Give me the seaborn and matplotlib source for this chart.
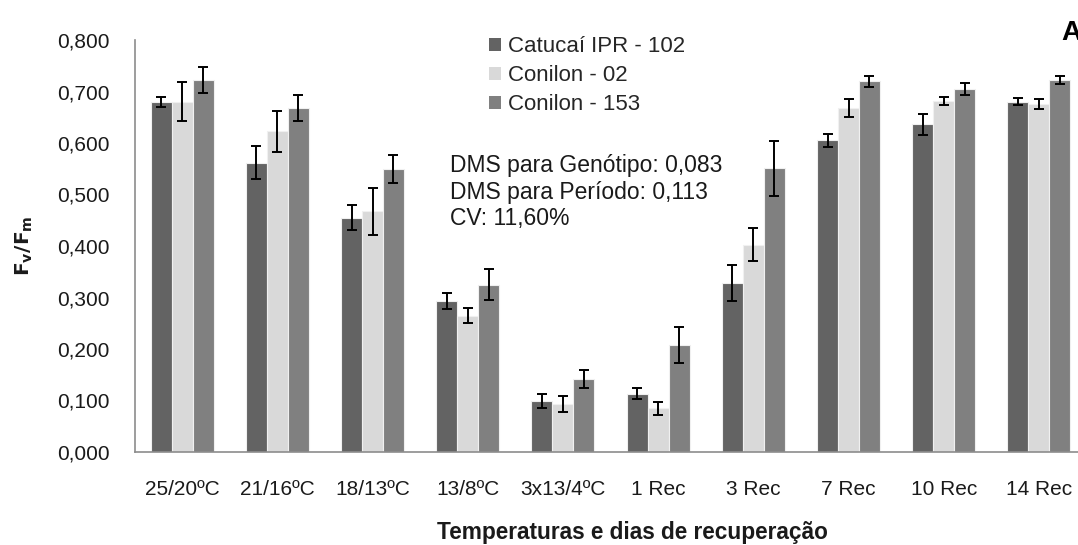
import matplotlib
matplotlib.use("Agg")
import matplotlib.pyplot as plt
import matplotlib.ticker as mticker
import seaborn as sns
import pandas as pd

categories = ["25/20ºC", "21/16ºC", "18/13ºC", "13/8ºC", "3x13/4ºC",
              "1 Rec", "3 Rec", "7 Rec", "10 Rec", "14 Rec"]
series_names = ["Catucaí IPR - 102", "Conilon - 02", "Conilon - 153"]
catucai = [0.680, 0.562, 0.455, 0.293, 0.099, 0.113, 0.329, 0.605, 0.636, 0.680]
conilon02 = [0.680, 0.623, 0.467, 0.265, 0.093, 0.085, 0.402, 0.668, 0.681, 0.676]
conilon153 = [0.722, 0.668, 0.550, 0.325, 0.142, 0.207, 0.551, 0.720, 0.705, 0.722]
catucai_err = [0.010, 0.032, 0.024, 0.015, 0.013, 0.011, 0.035, 0.012, 0.020, 0.007]
conilon02_err = [0.038, 0.040, 0.046, 0.014, 0.015, 0.013, 0.032, 0.018, 0.008, 0.010]
conilon153_err = [0.025, 0.025, 0.027, 0.030, 0.018, 0.035, 0.053, 0.011, 0.011, 0.008]
colors = ["#636363", "#d9d9d9", "#808080"]

values = [catucai, conilon02, conilon153]
errors = [catucai_err, conilon02_err, conilon153_err]

rows = []
for name, vals in zip(series_names, values):
    for c, v in zip(categories, vals):
        rows.append({"cat": c, "serie": name, "val": v})
df = pd.DataFrame(rows)

sns.set_theme(style="white")
plt.rcParams["font.family"] = ["Liberation Sans", "DejaVu Sans"]

fig = plt.figure(figsize=(10.78, 5.45), dpi=100)
ax = fig.add_axes([134.5 / 1078, 1 - 452 / 545, 952 / 1078, (452 - 40) / 545])

sns.barplot(data=df, x="cat", y="val", hue="serie", order=categories,
            hue_order=series_names, palette=colors, width=0.66,
            errorbar=None, edgecolor="#f0f0f0", linewidth=0.8,
            saturation=1, ax=ax)

for cont, errs in zip(ax.containers, errors):
    xs = [p.get_x() + p.get_width() / 2 for p in cont.patches]
    hs = [p.get_height() for p in cont.patches]
    ax.errorbar(xs, hs, yerr=errs, fmt="none", ecolor="black",
                elinewidth=1.4, capsize=3.8, capthick=1.4, zorder=5)

ax.set_xlim(-0.5, 9.5)
ax.set_ylim(0, 0.8)
ax.yaxis.set_major_locator(mticker.MultipleLocator(0.1))
ax.yaxis.set_major_formatter(mticker.FuncFormatter(lambda v, p: f"{v:.3f}".replace(".", ",")))

for s in ["top", "right"]:
    ax.spines[s].set_visible(False)
for s in ["left", "bottom"]:
    ax.spines[s].set_color("#8c8c8c")
    ax.spines[s].set_linewidth(1.2)

ax.tick_params(axis="y", direction="in", length=7, width=1.2, color="#8c8c8c",
               labelsize=15, labelcolor="#1a1a1a", pad=18)
ax.tick_params(axis="x", length=0, labelsize=15, labelcolor="#1a1a1a", pad=20)

ax.set_xlabel("Temperaturas e dias de recuperação", fontsize=16.3, fontweight="bold",
              color="#1a1a1a")
ax.xaxis.set_label_coords((632.5 - 134.5) / 952, -(532 - 452) / 412, transform=ax.transAxes)
ax.xaxis.label.set_va("center")
ax.set_ylabel(r"$\mathbf{F_v/F_m}$", fontsize=14.5, labelpad=16, color="#1a1a1a")

leg = ax.legend(loc="upper left", bbox_to_anchor=(478 / 1078, 1 - 25 / 545),
                bbox_transform=fig.transFigure, frameon=False, fontsize=16,
                handlelength=0.55, handleheight=0.55, handletextpad=0.3,
                labelspacing=0.36, borderpad=0)
for h in leg.legend_handles:
    h.set_edgecolor("none")

fig.text(450 / 1078, 1 - 192 / 545,
         "DMS para Genótipo: 0,083\nDMS para Período: 0,113\nCV: 11,60%",
         fontsize=16.5, color="#1a1a1a", va="center", ha="left", linespacing=1.22)
fig.text(1061 / 1078, 1 - 33 / 545, "A", fontsize=20, fontweight="bold",
         ha="left", va="center", color="black")

fig.savefig("out.png", dpi=100)
